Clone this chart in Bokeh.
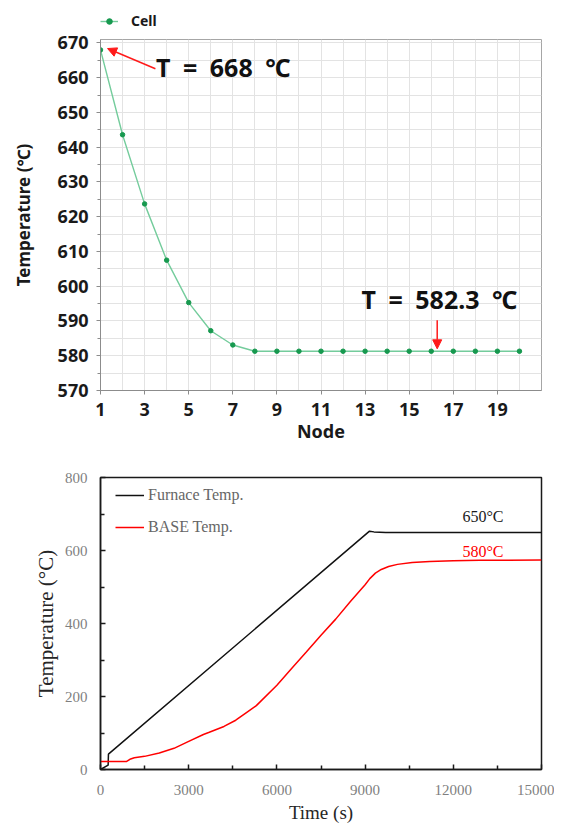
from bokeh.plotting import figure
from bokeh.models import (FixedTicker, Label, Arrow, NormalHead, Legend, LegendItem,
                          Range1d, ColumnDataSource)
from bokeh.layouts import column
from bokeh.embed import file_html
from bokeh.resources import INLINE

# ---------------- data: top chart ----------------
node = [1, 2, 3, 4, 5, 6, 7, 8, 9, 10, 11, 12, 13, 14, 15, 16, 17, 18, 19, 20]
cell_temp = [668.0, 643.6, 623.7, 607.5, 595.3, 587.2, 583.1, 581.3, 581.3, 581.3,
             581.3, 581.3, 581.3, 581.3, 581.3, 581.3, 581.3, 581.3, 581.3, 581.3]
node_ticks = [1, 3, 5, 7, 9, 11, 13, 15, 17, 19]
node_grid = [1, 2, 3, 4, 5, 6, 7, 8, 9, 10, 11, 12, 13, 14, 15, 16, 17, 18, 19, 20, 21]
temp_ticks = [570, 580, 590, 600, 610, 620, 630, 640, 650, 660, 670]
temp_minor = [575, 585, 595, 605, 615, 625, 635, 645, 655, 665]
temp_grid = [570, 575, 580, 585, 590, 595, 600, 605, 610, 615, 620, 625, 630, 635,
             640, 645, 650, 655, 660, 665, 670]

# annotations (data units)
ann1_text = "T\u2002=\u2002668\u2002\u2103"
ann1_pos = (3.52, 663.0)
ann1_arrow = (3.49, 662.6, 1.32, 668.4)
ann2_text = "T\u2002=\u2002582.3\u2002\u2103"
ann2_pos = (12.84, 596.2)
ann2_arrow = (16.27, 590.2, 16.27, 582.0)

# ---------------- data: bottom chart ----------------
time_furnace = [0, 260, 270, 9150, 9300, 9700, 15000]
temp_furnace = [0, 12, 42, 653, 651, 649, 649]
time_base = [0, 890, 1000, 1150, 1500, 2000, 2500, 3000, 3500, 3700, 4200, 4600, 5000,
             5300, 6000, 6500, 7000, 7500, 8000, 8500, 9000, 9160, 9350, 9550, 9800,
             10100, 10600, 11200, 12000, 12900, 15000]
temp_base = [22, 22, 28, 32, 36, 45, 58, 77, 96, 102, 118, 135, 158,
             175, 231, 277, 322, 368, 412, 460, 506, 523, 538, 548, 556,
             562, 567, 570, 572, 573, 574]
time_ticks = [0, 3000, 6000, 9000, 12000, 15000]
time_minor = [1500, 4500, 7500, 10500, 13500]
btemp_ticks = [0, 200, 400, 600, 800]
btemp_minor = [100, 300, 500, 700]
label_650 = ("650\u00b0C", 12310, 694)
label_580 = ("580\u00b0C", 12310, 596)

SANS = "Noto Sans"
SERIF = "Liberation Serif"
LINE_GREEN = "#74cc9c"
DOT_GREEN = "#17994f"

src1 = ColumnDataSource(dict(x=node, y=cell_temp))

# ================= legend strip above the top chart =================
# (the series is plotted here only to feed the legend key; the view range is empty)
p0 = figure(width=554, height=30, x_range=Range1d(-3, -2), y_range=Range1d(0, 1),
            output_backend="svg", toolbar_location=None,
            x_axis_location=None, y_axis_location=None,
            min_border_left=100, min_border_right=13, min_border_top=0, min_border_bottom=0)
p0.outline_line_color = None
p0.xgrid.visible = False
p0.ygrid.visible = False
l0 = p0.line("x", "y", source=src1, line_color=LINE_GREEN, line_width=1.4)
s0 = p0.scatter("x", "y", source=src1, size=4.5, fill_color=DOT_GREEN, line_color=DOT_GREEN)
leg1 = Legend(items=[LegendItem(label="Cell", renderers=[l0, s0])], location=(0, 0),
              orientation="horizontal", padding=0, margin=0, spacing=0,
              glyph_width=18, glyph_height=14, label_height=14, label_standoff=13,
              label_text_font=SANS, label_text_font_style="bold",
              label_text_font_size="14px", label_text_color="#1a1a1a",
              background_fill_alpha=0, border_line_alpha=0)
p0.add_layout(leg1, "center")

# ================= top figure =================
p1 = figure(width=554, height=418, x_range=Range1d(1, 21), y_range=Range1d(570, 671),
            output_backend="svg", toolbar_location=None,
            min_border_left=100, min_border_right=13, min_border_top=9, min_border_bottom=58)
p1.outline_line_color = "#a6a6a6"
p1.xgrid.ticker = FixedTicker(ticks=node_grid)
p1.ygrid.ticker = FixedTicker(ticks=temp_grid)
for g in (p1.xgrid, p1.ygrid):
    g.grid_line_color = "#e3e3e3"
    g.grid_line_width = 1

p1.line("x", "y", source=src1, line_color=LINE_GREEN, line_width=1.4)
p1.scatter("x", "y", source=src1, size=4.5, fill_color=DOT_GREEN, line_color=DOT_GREEN)

for ax in (p1.xaxis[0], p1.yaxis[0]):
    ax.axis_line_color = "#8c8c8c"
    ax.major_tick_line_color = "#8c8c8c"
    ax.minor_tick_line_color = "#8c8c8c"
    ax.major_tick_out = 4
    ax.major_tick_in = 0
    ax.minor_tick_out = 3
    ax.minor_tick_in = 0
    ax.major_label_text_font = SANS
    ax.major_label_text_font_style = "bold"
    ax.major_label_text_font_size = "18px"
    ax.major_label_text_color = "#1a1a1a"
    ax.axis_label_text_font = SANS
    ax.axis_label_text_font_style = "bold"
    ax.axis_label_text_color = "#1a1a1a"

p1.xaxis.ticker = FixedTicker(ticks=node_ticks, minor_ticks=[])
p1.yaxis.ticker = FixedTicker(ticks=temp_ticks, minor_ticks=temp_minor)
p1.xaxis.axis_label = "Node"
p1.xaxis.axis_label_text_font_size = "18px"
p1.xaxis.major_label_standoff = 8
p1.xaxis.axis_label_standoff = 0
p1.yaxis.axis_label = "Temperature (\u2103)"
p1.yaxis.axis_label_text_font_size = "17px"
p1.yaxis.major_label_standoff = 8
p1.yaxis.axis_label_standoff = 20

for txt, pos in ((ann1_text, ann1_pos), (ann2_text, ann2_pos)):
    p1.add_layout(Label(x=pos[0], y=pos[1], text=txt, text_font=SANS, text_font_style="bold",
                        text_font_size="25px", text_color="#111111",
                        text_baseline="middle", text_align="left"))
for (xs, ys, xe, ye) in (ann1_arrow, ann2_arrow):
    p1.add_layout(Arrow(end=NormalHead(size=9, fill_color="#ff1a1a", line_color="#ff1a1a"),
                        x_start=xs, y_start=ys, x_end=xe, y_end=ye,
                        line_color="#ff1a1a", line_width=1.5))

# ================= bottom figure =================
p2 = figure(width=554, height=380, x_range=Range1d(0, 15000), y_range=Range1d(0, 800),
            output_backend="svg", toolbar_location=None,
            min_border_left=96, min_border_right=12, min_border_top=29, min_border_bottom=59)
p2.outline_line_color = "#1a1a1a"
p2.outline_line_width = 1.5
p2.xgrid.visible = False
p2.ygrid.visible = False

rf = p2.line(time_furnace, temp_furnace, line_color="#111111", line_width=1.5)
rb = p2.line(time_base, temp_base, line_color="#ff0000", line_width=1.5)

for ax in (p2.xaxis[0], p2.yaxis[0]):
    ax.axis_line_color = "#1a1a1a"
    ax.axis_line_width = 1.5
    ax.major_tick_line_color = "#1a1a1a"
    ax.minor_tick_line_color = "#1a1a1a"
    ax.major_tick_line_width = 1.5
    ax.minor_tick_line_width = 1.5
    ax.major_tick_in = 5
    ax.major_tick_out = 0
    ax.minor_tick_in = 4
    ax.minor_tick_out = 0
    ax.major_label_text_font = SERIF
    ax.major_label_text_font_size = "15px"
    ax.major_label_text_color = "#7f7f7f"
    ax.axis_label_text_font = SERIF
    ax.axis_label_text_font_style = "normal"
    ax.axis_label_text_color = "#262626"

p2.xaxis.ticker = FixedTicker(ticks=time_ticks, minor_ticks=time_minor)
p2.yaxis.ticker = FixedTicker(ticks=btemp_ticks, minor_ticks=btemp_minor)
p2.xaxis.axis_label = "Time (s)"
p2.xaxis.axis_label_text_font_size = "19px"
p2.xaxis.major_label_standoff = 15
p2.xaxis.axis_label_standoff = 4
p2.yaxis.axis_label = "Temperature (\u00b0C)"
p2.yaxis.axis_label_text_font_size = "21px"
p2.yaxis.major_label_standoff = 13
p2.yaxis.axis_label_standoff = 4

leg2 = Legend(items=[LegendItem(label="Furnace Temp.", renderers=[rf]),
                     LegendItem(label="BASE Temp.", renderers=[rb])],
              location=(15, 232), padding=0, margin=0, spacing=12,
              glyph_width=29, glyph_height=20, label_height=20, label_standoff=4,
              label_text_font=SERIF, label_text_font_size="16px",
              label_text_color="#666666",
              background_fill_alpha=0, border_line_alpha=0)
p2.add_layout(leg2, "center")

p2.add_layout(Label(x=label_650[1], y=label_650[2], text=label_650[0], text_font=SERIF,
                    text_font_size="16px", text_color="#1a1a1a",
                    text_baseline="middle", text_align="left"))
p2.add_layout(Label(x=label_580[1], y=label_580[2], text=label_580[0], text_font=SERIF,
                    text_font_size="16px", text_color="#ff0000",
                    text_baseline="middle", text_align="left"))

layout = column(p0, p1, p2, spacing=0)
open("out.html", "w").write(file_html(layout, INLINE))
